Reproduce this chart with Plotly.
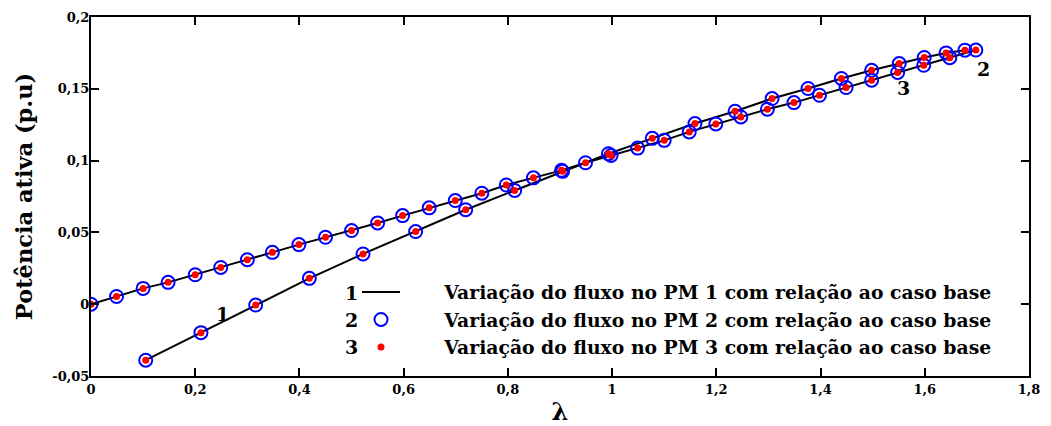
import plotly.graph_objects as go

# ---- data ----
lam_a = [0, 0.049, 0.1, 0.148, 0.2, 0.249, 0.3, 0.348, 0.399, 0.45, 0.5, 0.55, 0.598,
         0.649, 0.699, 0.75, 0.797, 0.849, 0.903, 0.949, 0.998, 1.049, 1.1, 1.148,
         1.199, 1.247, 1.298, 1.349, 1.398, 1.449, 1.498, 1.548, 1.598, 1.648, 1.698]
p_a = [0, 0.0054, 0.011, 0.0152, 0.0205, 0.0256, 0.031, 0.0361, 0.0415, 0.0466, 0.0513,
       0.0566, 0.0617, 0.0671, 0.0722, 0.0773, 0.083, 0.088, 0.0932, 0.0985, 0.1036,
       0.1087, 0.1141, 0.12, 0.1255, 0.1304, 0.1358, 0.1404, 0.1455, 0.1509, 0.156,
       0.1614, 0.1664, 0.1717, 0.177]

lam_b = [0.105, 0.211, 0.316, 0.419, 0.522, 0.623, 0.719, 0.813, 0.905, 0.993, 1.077,
         1.159, 1.236, 1.307, 1.376, 1.44, 1.498, 1.551, 1.599, 1.641, 1.677]
p_b = [-0.039, -0.0198, -0.0006, 0.018, 0.035, 0.0506, 0.0658, 0.0792, 0.0925, 0.1048,
       0.1155, 0.1258, 0.1344, 0.1432, 0.1502, 0.1572, 0.1629, 0.1676, 0.1718, 0.175,
       0.1769]

legend_names = [
    "Variação do fluxo no PM 1 com relação ao caso base",
    "Variação do fluxo no PM 2 com relação ao caso base",
    "Variação do fluxo no PM 3 com relação ao caso base",
]
legend_numbers = ["1", "2", "3"]

curve_labels = ["1", "2", "3"]
curve_label_x = [0.253, 1.712, 1.56]
curve_label_y = [-0.0067, 0.1637, 0.1504]

x_tick_vals = [0, 0.2, 0.4, 0.6, 0.8, 1.0, 1.2, 1.4, 1.6, 1.8]
x_tick_text = ["0", "0,2", "0,4", "0,6", "0,8", "1", "1,2", "1,4", "1,6", "1,8"]
y_tick_vals = [-0.05, 0, 0.05, 0.1, 0.15, 0.2]
y_tick_text = ["-0,05", "0", "0,05", "0,1", "0,15", "0,2"]

FONT = "DejaVu Serif"
PAD = "\u00a0" * 6

fig = go.Figure()

# lines
fig.add_trace(go.Scatter(x=lam_a, y=p_a, mode="lines", name=PAD + legend_names[0],
                         line=dict(color="black", width=2), legendrank=1))
fig.add_trace(go.Scatter(x=lam_b, y=p_b, mode="lines", showlegend=False,
                         line=dict(color="black", width=2)))
# blue open circles
fig.add_trace(go.Scatter(x=lam_a, y=p_a, mode="markers", name=PAD + legend_names[1],
                         marker=dict(symbol="circle-open", size=13, color="#0000ff",
                                     line=dict(width=2, color="#0000ff")), legendrank=2))
fig.add_trace(go.Scatter(x=lam_b, y=p_b, mode="markers", showlegend=False,
                         marker=dict(symbol="circle-open", size=13, color="#0000ff",
                                     line=dict(width=2, color="#0000ff"))))
# red dots
fig.add_trace(go.Scatter(x=lam_a, y=p_a, mode="markers", name=PAD + legend_names[2],
                         marker=dict(symbol="circle", size=7, color="#ff0000"), legendrank=3))
fig.add_trace(go.Scatter(x=lam_b, y=p_b, mode="markers", showlegend=False,
                         marker=dict(symbol="circle", size=7, color="#ff0000")))

# curve labels
for t, x, y in zip(curve_labels, curve_label_x, curve_label_y):
    fig.add_annotation(x=x, y=y, text=t, showarrow=False,
                       xanchor="center", yanchor="middle",
                       font=dict(family=FONT, size=19, color="black", weight="bold"))

# legend numbers
leg_num_y = [293, 320, 347]
for t, py in zip(legend_numbers, leg_num_y):
    fig.add_annotation(xref="paper", yref="paper",
                       x=(351 - 91) / 938, y=(375.6 - py) / 358.6,
                       xanchor="center", yanchor="middle",
                       text=t, showarrow=False,
                       font=dict(family=FONT, size=19, color="black", weight="bold"))

axis_common = dict(showline=True, linecolor="black", linewidth=2, mirror="ticks",
                   ticks="inside", ticklen=8, tickwidth=1.5, tickcolor="black",
                   showgrid=False, zeroline=False,
                   tickfont=dict(family=FONT, size=13, color="black", weight="bold"))

fig.update_xaxes(range=[0, 1.8], tickvals=x_tick_vals, ticktext=x_tick_text,
                 title=dict(text="λ", standoff=8,
                            font=dict(family=FONT, size=24, color="black", weight="bold")),
                 **axis_common)
fig.update_yaxes(range=[-0.05, 0.2], tickvals=y_tick_vals, ticktext=y_tick_text,
                 ticklabelstandoff=-3,
                 title=dict(text="Potência ativa (p.u)\u00a0", standoff=13,
                            font=dict(family=FONT, size=22.5, color="black", weight="bold")),
                 **axis_common)

fig.update_layout(
    width=1051, height=426,
    margin=dict(l=91, r=22, t=17, b=50, autoexpand=False),
    paper_bgcolor="white", plot_bgcolor="white",
    font=dict(family=FONT, color="black"),
    legend=dict(x=(357 - 91) / 938, y=(375.6 - 273) / 358.6, xanchor="left", yanchor="top",
                bgcolor="rgba(0,0,0,0)", borderwidth=0, itemwidth=38,
                tracegroupgap=0,
                font=dict(family=FONT, size=18.8, color="black", weight="bold")),
)

fig.write_html("out.html")
